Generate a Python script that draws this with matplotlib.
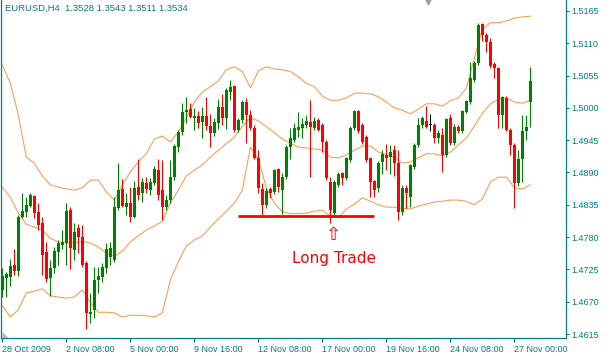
import matplotlib
matplotlib.use("Agg")
import matplotlib.pyplot as plt
from matplotlib.patches import Polygon
import numpy as np

# ---------------- data (EURUSD H4) ----------------
opens = [1.4690,1.4710,1.4712,1.4732,1.4722,1.4814,1.4823,1.4833,1.4850,1.4823,
         1.4804,1.4755,1.4710,1.4727,1.4755,1.4767,1.4770,1.4826,1.4758,1.4796,
         1.4780,1.4736,1.4649,1.4656,1.4707,1.4712,1.4727,1.4746,1.4741,1.4830,
         1.4862,1.4831,1.4838,1.4814,1.4865,1.4855,1.4872,1.4860,1.4872,1.4894,
         1.4860,1.4831,1.4843,1.4882,1.4933,1.4959,1.4993,1.4998,1.4983,1.4986,
         1.4976,1.4986,1.4969,1.4957,1.4974,1.5002,1.4983,1.5027,1.5037,1.4962,
         1.4979,1.5010,1.4988,1.4966,1.4915,1.4862,1.4835,1.4862,1.4857,1.4896,
         1.4860,1.4882,1.4933,1.4945,1.4962,1.4966,1.4971,1.4976,1.4966,1.4979,
         1.4971,1.4942,1.4874,1.4821,1.4869,1.4889,1.4881,1.4911,1.4966,1.4995,
         1.4971,1.4950,1.4915,1.4876,1.4864,1.4908,1.4920,1.4916,1.4928,1.4906,
         1.4823,1.4864,1.4848,1.4899,1.4937,1.4971,1.4978,1.4971,1.4971,1.4949,
         1.4954,1.4920,1.4983,1.4940,1.4968,1.4960,1.4993,1.5010,1.5048,1.5076,
         1.5143,1.5124,1.5112,1.5075,1.5068,1.4988,1.5017,1.4962,1.4937,1.4872,
         1.4913,1.4960,1.5010]
highs = [1.4727,1.4721,1.4743,1.4760,1.4818,1.4855,1.4848,1.4855,1.4852,1.4838,
         1.4814,1.4772,1.4741,1.4763,1.4775,1.4792,1.4838,1.4831,1.4804,1.4802,
         1.4801,1.4739,1.4685,1.4729,1.4729,1.4736,1.4770,1.4772,1.4848,1.4906,
         1.4879,1.4855,1.4865,1.4876,1.4913,1.4881,1.4882,1.4881,1.4901,1.4913,
         1.4911,1.4852,1.4911,1.4939,1.4962,1.5008,1.5019,1.5008,1.5000,1.4995,
         1.5002,1.5019,1.4990,1.4983,1.5015,1.5024,1.5034,1.5048,1.5039,1.4983,
         1.5013,1.5017,1.4996,1.4971,1.4928,1.4872,1.4864,1.4865,1.4896,1.4898,
         1.4889,1.4937,1.4966,1.4974,1.4993,1.4983,1.4988,1.5013,1.4985,1.4983,
         1.4974,1.4945,1.4882,1.4877,1.4891,1.4891,1.4916,1.4969,1.4996,1.4996,
         1.4974,1.4954,1.4916,1.4877,1.4910,1.4928,1.4939,1.4937,1.4937,1.4928,
         1.4869,1.4869,1.4904,1.4940,1.4983,1.4986,1.5003,1.4990,1.4974,1.4962,
         1.4966,1.4983,1.4990,1.4973,1.4971,1.4996,1.5013,1.5078,1.5080,1.5145,
         1.5145,1.5128,1.5119,1.5078,1.5070,1.5020,1.5020,1.4966,1.4940,1.4928,
         1.4988,1.4988,1.5070]
lows = [1.4678,1.4678,1.4697,1.4715,1.4714,1.4813,1.4814,1.4831,1.4813,1.4792,
        1.4715,1.4704,1.4680,1.4719,1.4732,1.4760,1.4732,1.4726,1.4741,1.4753,
        1.4729,1.4624,1.4634,1.4642,1.4685,1.4704,1.4719,1.4732,1.4738,1.4826,
        1.4831,1.4818,1.4806,1.4813,1.4843,1.4840,1.4855,1.4852,1.4869,1.4843,
        1.4809,1.4826,1.4838,1.4877,1.4925,1.4954,1.4974,1.4983,1.4962,1.4966,
        1.4949,1.4962,1.4933,1.4952,1.4964,1.4971,1.4964,1.5013,1.4959,1.4959,
        1.4974,1.4940,1.4962,1.4913,1.4855,1.4818,1.4829,1.4847,1.4853,1.4857,
        1.4820,1.4879,1.4913,1.4942,1.4950,1.4949,1.4966,1.4882,1.4962,1.4960,
        1.4925,1.4877,1.4804,1.4818,1.4865,1.4869,1.4877,1.4908,1.4962,1.4957,
        1.4939,1.4908,1.4848,1.4848,1.4857,1.4887,1.4894,1.4887,1.4884,1.4809,
        1.4818,1.4829,1.4831,1.4896,1.4933,1.4966,1.4966,1.4960,1.4940,1.4940,
        1.4891,1.4916,1.4937,1.4937,1.4957,1.4957,1.4991,1.5007,1.5044,1.5073,
        1.5114,1.5095,1.5068,1.5051,1.4966,1.4966,1.4961,1.4920,1.4829,1.4867,
        1.4874,1.4945,1.4968]
closes = [1.4714,1.4717,1.4731,1.4722,1.4814,1.4824,1.4835,1.4852,1.4821,1.4801,
          1.4750,1.4709,1.4727,1.4756,1.4770,1.4772,1.4824,1.4761,1.4789,1.4780,
          1.4732,1.4651,1.4652,1.4707,1.4714,1.4729,1.4760,1.4761,1.4831,1.4860,
          1.4833,1.4838,1.4814,1.4864,1.4852,1.4874,1.4862,1.4874,1.4896,1.4852,
          1.4831,1.4843,1.4882,1.4935,1.4959,1.4993,1.4996,1.4985,1.4986,1.4974,
          1.4986,1.4969,1.4957,1.4976,1.5002,1.4983,1.5030,1.5036,1.4962,1.4979,
          1.5010,1.4988,1.4966,1.4915,1.4864,1.4835,1.4859,1.4855,1.4894,1.4865,
          1.4882,1.4933,1.4949,1.4966,1.4968,1.4973,1.4978,1.4968,1.4978,1.4962,
          1.4942,1.4881,1.4826,1.4874,1.4887,1.4881,1.4915,1.4966,1.4995,1.4960,
          1.4942,1.4911,1.4874,1.4860,1.4906,1.4922,1.4915,1.4925,1.4906,1.4823,
          1.4864,1.4855,1.4903,1.4937,1.4971,1.4983,1.4968,1.4971,1.4949,1.4957,
          1.4920,1.4981,1.4940,1.4968,1.4960,1.4995,1.5012,1.5051,1.5076,1.5141,
          1.5124,1.5112,1.5071,1.5068,1.4988,1.5019,1.4962,1.4937,1.4872,1.4913,
          1.4960,1.4968,1.5046]

# Bollinger bands read every 2 bars
band_idx = list(range(0, 133, 2))
bb_upper = [1.5073,1.5042,1.4988,1.4916,1.4906,1.4884,1.4869,1.4865,1.4862,1.4860,
            1.4864,1.4877,1.4877,1.4857,1.4843,1.4869,1.4891,1.4908,1.4922,1.4947,
            1.4952,1.4942,1.4959,1.4983,1.5010,1.5027,1.5036,1.5046,1.5065,1.5070,
            1.5062,1.5034,1.5063,1.5070,1.5066,1.5065,1.5062,1.5053,1.5042,1.5036,
            1.5020,1.5013,1.5013,1.5017,1.5025,1.5025,1.5024,1.5019,1.5010,1.5000,
            1.4996,1.4990,1.4998,1.5007,1.5007,1.5003,1.5012,1.5017,1.5034,1.5085,
            1.5134,1.5145,1.5145,1.5148,1.5153,1.5155,1.5156]
bb_middle = [1.4865,1.4848,1.4821,1.4802,1.4797,1.4792,1.4778,1.4772,1.4770,1.4770,
             1.4773,1.4770,1.4763,1.4753,1.4747,1.4756,1.4772,1.4782,1.4792,1.4799,
             1.4807,1.4838,1.4860,1.4884,1.4894,1.4903,1.4916,1.4928,1.4939,1.4950,
             1.4969,1.4983,1.4978,1.4968,1.4958,1.4947,1.4940,1.4933,1.4932,1.4930,
             1.4928,1.4916,1.4915,1.4920,1.4928,1.4935,1.4935,1.4925,1.4920,1.4916,
             1.4906,1.4908,1.4915,1.4922,1.4922,1.4918,1.4925,1.4937,1.4949,1.4969,
             1.4991,1.5007,1.5015,1.5017,1.5010,1.5008,1.5013]
bb_lower = [1.4663,1.4644,1.4656,1.4685,1.4688,1.4692,1.4680,1.4678,1.4676,1.4678,
            1.4690,1.4669,1.4652,1.4652,1.4651,1.4644,1.4647,1.4647,1.4646,1.4644,
            1.4651,1.4707,1.4738,1.4765,1.4775,1.4782,1.4797,1.4811,1.4824,1.4838,
            1.4860,1.4933,1.4913,1.4864,1.4838,1.4823,1.4820,1.4820,1.4821,1.4824,
            1.4826,1.4816,1.4813,1.4828,1.4836,1.4847,1.4841,1.4835,1.4831,1.4831,
            1.4829,1.4828,1.4833,1.4836,1.4840,1.4841,1.4843,1.4843,1.4841,1.4835,
            1.4845,1.4874,1.4882,1.4882,1.4864,1.4862,1.4869]

date_ticks = [0, 16, 32, 48, 64, 80, 96, 112, 128]
date_labels = ["28 Oct 2009", "2 Nov 08:00", "5 Nov 00:00", "9 Nov 16:00",
               "12 Nov 08:00", "17 Nov 00:00", "19 Nov 16:00", "24 Nov 08:00",
               "27 Nov 00:00"]
price_ticks = [1.4615, 1.4670, 1.4725, 1.4780, 1.4835, 1.4890, 1.4945,
               1.5000, 1.5055, 1.5110, 1.5165]

trade_level = 1.4816
trade_start, trade_end = 58.9, 92.9
arrow_bar, arrow_price = 82.7, 1.4784
label_bar, label_price = 82.9, 1.4744
title = "EURUSD,H4  1.3528 1.3543 1.3511 1.3534"
doji_index = 107

# ---------------- drawing ----------------
TEAL = "#007F7F"
BULL = "#008000"
BEAR = "#FF0000"
BAND = "#F5A05A"

W, H = 613, 356
fig = plt.figure(figsize=(W / 100, H / 100), dpi=100)
fig.patch.set_facecolor("white")
ax = fig.add_axes([1.5 / W, 18 / H, (566 - 1.5) / W, 338 / H])
ax.set_facecolor("white")

n = len(opens)
x = np.arange(n)
o = np.array(opens); h = np.array(highs); l = np.array(lows); c = np.array(closes)
colors = [BULL if c[i] > o[i] else BEAR for i in range(n)]
colors[doji_index] = "black"

ax.vlines(x, l, h, colors=colors, linewidth=0.8, zorder=3)
bottoms = np.minimum(o, c)
heights = np.maximum(np.abs(c - o), 0.00012)
ax.bar(x, heights, bottom=bottoms, width=0.72, color=colors, linewidth=0, zorder=4)

for band in (bb_upper, bb_middle, bb_lower):
    ax.plot(band_idx, band, color=BAND, linewidth=0.8, zorder=2)

ax.hlines(trade_level, trade_start, trade_end, colors=BEAR, linewidth=2.0, zorder=5)
ax.text(arrow_bar, arrow_price, "\u21e7", color=BEAR, fontsize=13,
        ha="center", va="center", family="DejaVu Sans", zorder=6)
ax.text(label_bar, label_price, "Long Trade", color=BEAR, fontsize=11,
        ha="center", va="center", family="DejaVu Sans", zorder=6)

ax.set_xlim(-0.2, 140.9)
ax.set_ylim(1.46082, 1.51837)

for s in ("left", "bottom", "right"):
    ax.spines[s].set_color(TEAL)
    ax.spines[s].set_linewidth(0.9)
ax.spines["top"].set_visible(False)

ax.yaxis.tick_right()
ax.set_yticks(price_ticks)
ax.set_yticklabels([f"{p:.4f}" for p in price_ticks])
ax.tick_params(axis="y", colors=TEAL, labelcolor=TEAL, length=2.5, width=0.8,
               pad=1.5, labelsize=6.5, direction="out")
ax.set_xticks(date_ticks)
ax.set_xticklabels(date_labels)
ax.tick_params(axis="x", colors=TEAL, labelcolor=TEAL, length=3, width=0.8,
               pad=2, labelsize=6.5, direction="out")
for lbl in ax.get_xticklabels():
    lbl.set_ha("left")
for lbl in ax.get_xticklabels() + ax.get_yticklabels():
    lbl.set_family("Liberation Sans")

fig.text(5 / W, 1 - 8 / H, title, color=TEAL, fontsize=6.8,
         family="Liberation Sans", ha="left", va="center")

# chart-shift marker and corner marker
ax.plot([106.4], [1.5181], marker="v", color="#A0A0A0", markersize=3.5,
        clip_on=False, zorder=7)
fig.patches.append(Polygon([[2.5 / W, 18 / H], [2.5 / W, 24 / H], [8.5 / W, 18 / H]],
                           closed=True, facecolor="#B8B8B8", edgecolor="none",
                           transform=fig.transFigure, figure=fig))

fig.savefig("out.png", dpi=100, facecolor="white")
